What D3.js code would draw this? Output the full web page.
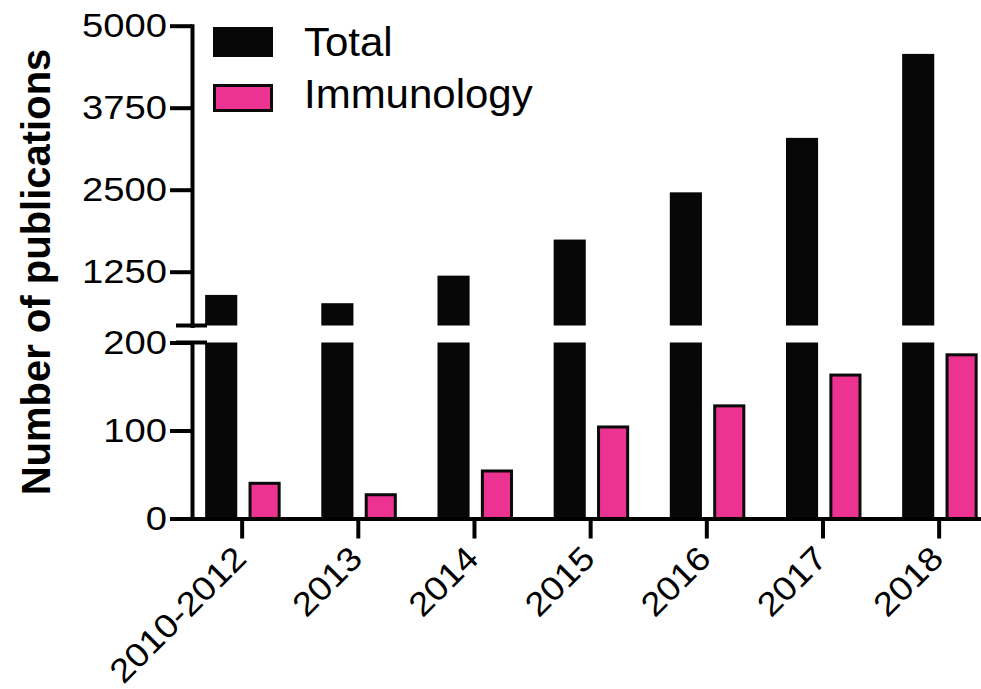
<!DOCTYPE html>
<html>
<head>
<meta charset="utf-8">
<script src="https://cdn.jsdelivr.net/npm/d3@7"></script>
<style>
  body { margin: 0; background: #fff; }
  #canvas { width: 981px; height: 689px; }
  text { font-family: "Liberation Sans", Arial, Helvetica, sans-serif; fill: #000; }
</style>
</head>
<body>
<div id="canvas"></div>
<script>
const categories = ["2010-2012", "2013", "2014", "2015", "2016", "2017", "2018"];
const totalCounts = [896, 770, 1190, 1740, 2460, 3290, 4570];
const immunologyCounts = [40, 27, 54, 104, 128, 163, 186];
const seriesNames = ["Total", "Immunology"];
const seriesColors = ["#070707", "#ed3392"];
const lowerTicks = [0, 100, 200];
const upperTicks = [1250, 2500, 3750, 5000];

const w = 981, h = 689;
const stretch = 1.14;  // y tick labels are wider than plain Arial
const xStretch = 1.1;
const legendStretch = 1.05;

let svg = d3.select("#canvas")
            .append("svg")
                .attr("width", w)
                .attr("height", h)
                .attr("viewBox", [0, 0, w, h]);

// broken y axis: two linear pieces
let yLow = d3.scaleLinear().domain([0, 200]).range([518.5, 342.5]);
let yHigh = d3.scaleLinear().domain([430, 5000]).range([325.5, 25.7]);

let x = d3.scalePoint()
          .domain(categories)
          .range([191.7, 988.6])
          .padding(0.43);

let inner = d3.scaleBand()
              .domain(seriesNames)
              .range([-36.5, 39])
              .paddingInner(0.26);

const axisX = 192;
const breakBottom = yHigh.range()[0];

function drawBars() {
    let g = svg.append("g");
    let bw = inner.bandwidth();

    // Total bars, lower piece
    g.selectAll("rect.total-low")
        .data(categories)
      .enter().append("rect")
        .attr("class", "total-low")
        .attr("x", (d) => x(d) + inner("Total"))
        .attr("width", bw)
        .attr("y", (d, i) => yLow(Math.min(totalCounts[i], 200)))
        .attr("height", (d, i) => yLow(0) - yLow(Math.min(totalCounts[i], 200)))
        .attr("fill", seriesColors[0]);

    // Total bars, upper piece
    g.selectAll("rect.total-high")
        .data(categories.filter((d, i) => totalCounts[i] > yHigh.domain()[0]))
      .enter().append("rect")
        .attr("class", "total-high")
        .attr("x", (d) => x(d) + inner("Total"))
        .attr("width", bw)
        .attr("y", (d) => yHigh(totalCounts[categories.indexOf(d)]))
        .attr("height", (d) => breakBottom - yHigh(totalCounts[categories.indexOf(d)]))
        .attr("fill", seriesColors[0]);

    // Immunology bars
    g.selectAll("rect.immuno")
        .data(categories)
      .enter().append("rect")
        .attr("class", "immuno")
        .attr("x", (d) => x(d) + inner("Immunology") + 1.5)
        .attr("width", bw - 3)
        .attr("y", (d, i) => yLow(immunologyCounts[i]))
        .attr("height", (d, i) => yLow(0) - yLow(immunologyCounts[i]))
        .attr("fill", seriesColors[1])
        .attr("stroke", "#0a0a0a")
        .attr("stroke-width", 3);
}

function styleAxis(gAxis) {
    gAxis.select(".domain")
        .attr("stroke", "#000")
        .attr("stroke-width", 4)
        .attr("stroke-linecap", "square");
    gAxis.selectAll(".tick line")
        .attr("stroke", "#000")
        .attr("stroke-width", 4);
}

function drawYAxes() {
    let lowAxis = d3.axisLeft(yLow).tickValues(lowerTicks).tickFormat(d3.format("d"))
                    .tickSize(22).tickSizeOuter(0);
    let highAxis = d3.axisLeft(yHigh).tickValues(upperTicks).tickFormat(d3.format("d"))
                    .tickSize(22).tickSizeOuter(0);

    [lowAxis, highAxis].forEach((ax) => {
        let gY = svg.append("g")
            .attr("transform", "translate(" + axisX + ",0)")
            .call(ax);
        styleAxis(gY);
        gY.selectAll(".tick text")
            .attr("x", -25 / stretch)
            .attr("transform", "scale(" + stretch + ",1)")
            .attr("font-size", 33.5)
            .attr("font-family", "Liberation Sans, Arial, sans-serif")
            .attr("fill", "#000");
    });

    // break marks
    [breakBottom, yLow(200)].forEach((yy) => {
        svg.append("line")
            .attr("x1", 176).attr("x2", 207)
            .attr("y1", yy).attr("y2", yy)
            .attr("stroke", "#000")
            .attr("stroke-width", 4);
    });
}

function drawXAxis() {
    let xAxis = d3.axisBottom(x).tickSize(20).tickSizeOuter(0);
    let gX = svg.append("g")
        .attr("transform", "translate(0," + yLow(0) + ")")
        .call(xAxis);
    styleAxis(gX);
    gX.select(".domain").attr("stroke-linecap", "butt");
    gX.selectAll(".tick text")
        .attr("x", 0)
        .attr("y", 0)
        .attr("dy", 0)
        .attr("text-anchor", "end")
        .attr("font-size", 33.5)
        .attr("font-family", "Liberation Sans, Arial, sans-serif")
        .attr("fill", "#000")
        .attr("transform", "translate(6,42) rotate(-45) scale(" + xStretch + ",1)");
}

function drawTitleAndLegend() {
    svg.append("text")
        .attr("transform", "translate(49.5,272) rotate(-90)")
        .attr("text-anchor", "middle")
        .attr("font-size", 40)
        .attr("font-weight", "bold")
        .text("Number of publications");

    let legend = svg.append("g");
    legend.append("rect")
        .attr("x", 213).attr("y", 27)
        .attr("width", 60).attr("height", 30)
        .attr("fill", seriesColors[0]);
    legend.append("rect")
        .attr("x", 214.5).attr("y", 85.5)
        .attr("width", 57).attr("height", 25)
        .attr("fill", seriesColors[1])
        .attr("stroke", "#0a0a0a")
        .attr("stroke-width", 3);
    legend.selectAll("text")
        .data(seriesNames)
      .enter().append("text")
        .attr("x", 304 / legendStretch)
        .attr("y", (d, i) => i == 0 ? 56 : 108.3)
        .attr("transform", "scale(" + legendStretch + ",1)")
        .attr("font-size", 40)
        .text((d) => d);
}

drawBars();
drawYAxes();
drawXAxis();
drawTitleAndLegend();
</script>
</body>
</html>
